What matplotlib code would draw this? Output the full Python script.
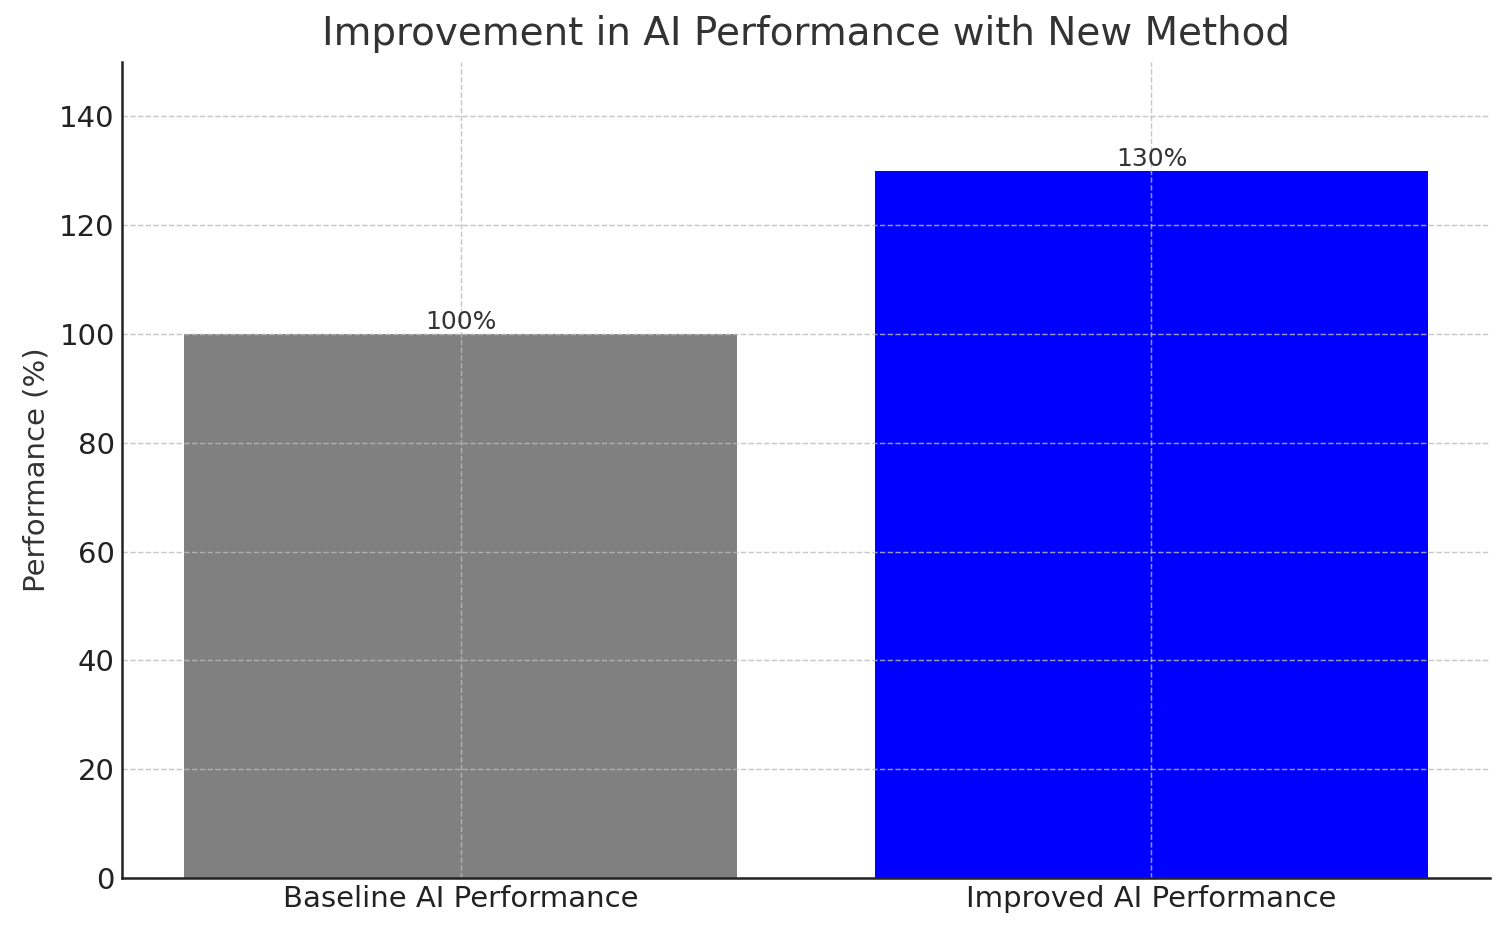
import matplotlib
matplotlib.use("Agg")
import matplotlib.pyplot as plt

categories = ["Baseline AI Performance", "Improved AI Performance"]
values = [100, 130]
bar_colors = ["grey", "blue"]

fig, ax = plt.subplots(figsize=(1507 / 150, 933 / 150), dpi=150)
bars = ax.bar(categories, values, color=bar_colors, width=0.8)

for b, v in zip(bars, values):
    ax.text(b.get_x() + b.get_width() / 2, b.get_height(), f"{v}%",
            ha="center", va="bottom", fontsize=12, color="#333333")

ax.set_title("Improvement in AI Performance with New Method", fontsize=18.7, color="#333333", pad=8)
ax.set_ylabel("Performance (%)", fontsize=14, color="#333333")
ax.set_ylim(0, 150)
ax.tick_params(labelsize=14, colors="#222222", length=0)
ax.grid(True, linestyle="--", color="#bbbbbb", linewidth=0.7, alpha=0.8)
ax.set_axisbelow(False)
ax.spines["top"].set_visible(False)
ax.spines["right"].set_visible(False)
for side in ("left", "bottom"):
    ax.spines[side].set_color("#222222")
    ax.spines[side].set_linewidth(1.2)
    ax.spines[side].set_zorder(3)

fig.subplots_adjust(left=0.081, right=0.9887, top=0.9335, bottom=0.059)
plt.savefig("out.png", dpi=150)
